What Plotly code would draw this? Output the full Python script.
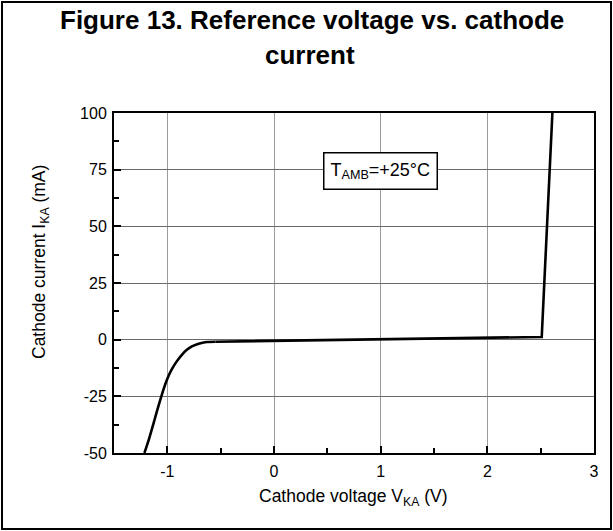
import plotly.graph_objects as go

# Data
# curved (reverse) branch, then the quasi-linear branch and the breakdown
curve_v = [-1.215, -1.17, -1.13, -1.10, -1.067, -1.035, -1.0, -0.96, -0.915, -0.87,
           -0.82, -0.77, -0.72, -0.67, -0.627, -0.55]
curve_i = [-50, -43.5, -37, -32, -26.7, -21.8, -17.2, -13.2, -9.8, -7.0,
           -4.6, -3.0, -2.0, -1.35, -1.0, -0.9]
linear_v = [-0.55, 0.0, 1.0, 2.0, 2.51, 2.61]
linear_i = [-0.9, -0.5, 0.2, 0.9, 1.2, 100]

x_ticks = [-1, 0, 1, 2, 3]
y_ticks = [-50, -25, 0, 25, 50, 75, 100]

FONT = "Liberation Sans, Arial, sans-serif"

fig = go.Figure()
fig.add_trace(go.Scatter(x=curve_v, y=curve_i, mode="lines", line_shape="spline",
                         line=dict(color="black", width=2.6, smoothing=0.8), showlegend=False,
                         hoverinfo="skip"))
fig.add_trace(go.Scatter(x=linear_v, y=linear_i, mode="lines",
                         line=dict(color="black", width=2.6), showlegend=False,
                         hoverinfo="skip"))

axis_common = dict(
    showline=True, linecolor="black", linewidth=2, mirror=True,
    showgrid=True, gridwidth=1,
    zeroline=False, ticks="inside", ticklen=7, tickwidth=1.5, tickcolor="black",
    tickfont=dict(family=FONT, size=16, color="black"),
    minor=dict(ticks="inside", ticklen=5, tickwidth=1.5, tickcolor="black", showgrid=False),
)

fig.update_xaxes(range=[-1.5, 3], tickvals=x_ticks, ticktext=[str(v) for v in x_ticks],
                 minor_dtick=0.5, minor_tick0=-1.5, ticklabelstandoff=3,
                 gridcolor="#9a9a9a", **axis_common)
fig.update_yaxes(range=[-50, 100], tickvals=y_ticks, ticktext=[str(v) for v in y_ticks],
                 minor_dtick=12.5, minor_tick0=0, ticklabelstandoff=2,
                 gridcolor="#6a6a6a", **axis_common)

def py(p):
    return (453 - p) / 340

fig.update_layout(
    width=613, height=531,
    margin=dict(l=114, r=19, t=113, b=78),
    paper_bgcolor="white", plot_bgcolor="white",
    font=dict(family=FONT, color="black"),
    shapes=[dict(type="rect", xref="paper", yref="paper",
                 x0=(2 - 114) / 480, x1=(611 - 114) / 480,
                 y0=py(529), y1=py(2),
                 line=dict(color="black", width=2), layer="below")],
    annotations=[
        dict(text="<b>Figure 13. Reference voltage vs. cathode</b>", x=(312 - 114) / 480,
             y=py(20), xref="paper", yref="paper", xanchor="center", yanchor="middle",
             showarrow=False, font=dict(family=FONT, size=26, color="black")),
        dict(text="<b>current</b>", x=(310 - 114) / 480, y=py(55),
             xref="paper", yref="paper", xanchor="center", yanchor="middle",
             showarrow=False, font=dict(family=FONT, size=26, color="black")),
        dict(text="T<sub>AMB</sub>=+25°C", x=1.0, y=74.3, xref="x", yref="y",
             showarrow=False, bgcolor="white", bordercolor="black", borderwidth=1.5,
             borderpad=6, font=dict(family=FONT, size=18, color="black")),
        dict(text="Cathode voltage V<sub>KA</sub> (V)", x=(353 - 114) / 480, y=py(497),
             xref="paper", yref="paper", xanchor="center", yanchor="middle",
             showarrow=False, font=dict(family=FONT, size=17.5, color="black")),
        dict(text="Cathode current I<sub>KA</sub> (mA)", x=(40 - 114) / 480, y=py(262),
             xref="paper", yref="paper", xanchor="center", yanchor="middle",
             textangle=-90, showarrow=False, font=dict(family=FONT, size=17.5, color="black")),
    ],
)

fig.write_html("out.html", config={"displayModeBar": False},
               post_script="document.body.style.margin='0';")
